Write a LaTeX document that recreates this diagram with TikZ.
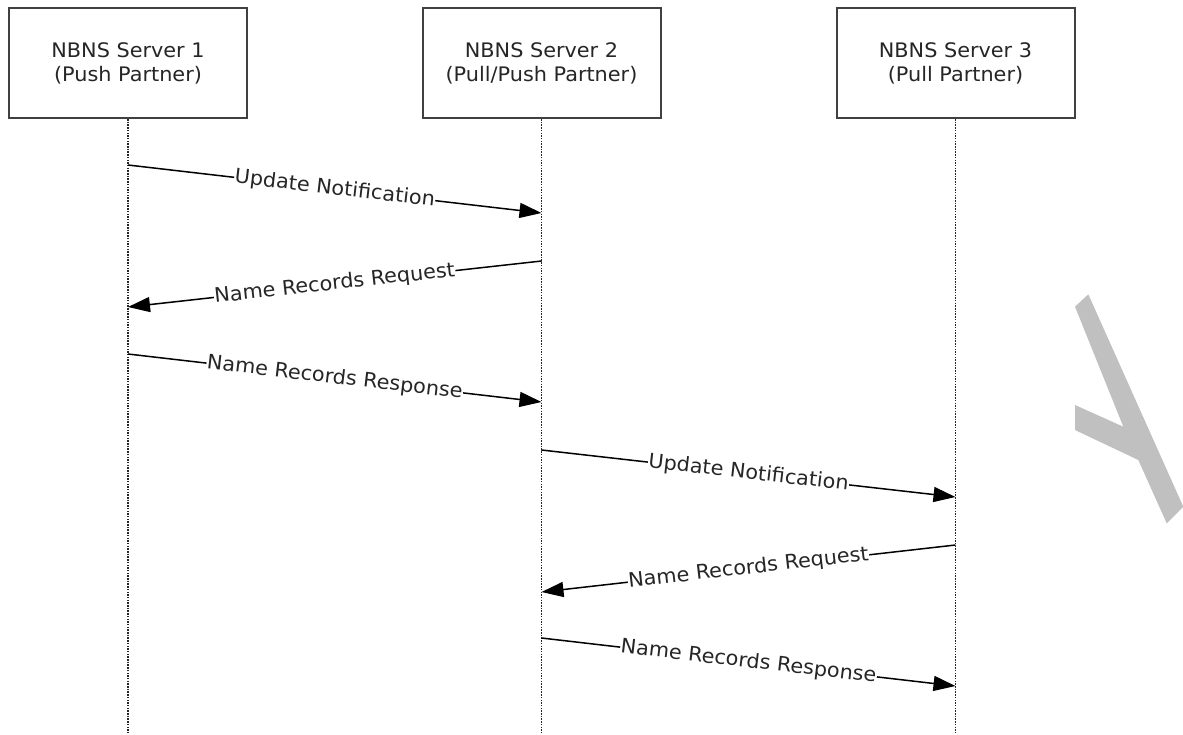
\documentclass[tikz,border=0pt]{standalone}
\usepackage{fontspec}
\setmainfont{DejaVu Sans}[FakeStretch=1.04]
\usetikzlibrary{arrows.meta}
\definecolor{boxline}{HTML}{404040}
\definecolor{txt}{HTML}{262626}
\definecolor{wm}{HTML}{C0C0C0}
\tikzset{
  server/.style={draw=boxline, line width=2pt, fill=white, minimum width=238pt, minimum height=110pt,
    align=center, text=txt, font=\fontsize{20}{24}\selectfont, inner sep=0pt},
  life/.style={draw=black!85, line width=1.1pt, dash pattern=on 1.5pt off 1.2pt},
  msg/.style={draw=black, line width=1.5pt, -{Triangle[length=22pt,width=15pt]}},
  lbl/.style={fill=white, text=txt, font=\fontsize{20}{24}\selectfont, inner sep=0.5pt, sloped, midway}
}
\begin{document}
\begin{tikzpicture}[x=1pt,y=-1pt]
\useasboundingbox (0,0) rectangle (1183,734);
% watermark shape
\fill[wm] (1075,306.7) -- (1088.3,294.3) -- (1183.3,506.7) -- (1166.7,523.3) -- (1138.3,460)
  -- (1075,430) -- (1075,405) -- (1123.3,426.7) -- cycle;
% servers
\node[server] (s1) at (128,63) {NBNS Server 1\\(Push Partner)};
\node[server] (s2) at (541.5,63) {NBNS Server 2\\(Pull/Push Partner)};
\node[server] (s3) at (955.5,63) {NBNS Server 3\\(Pull Partner)};
% lifeline ends
\coordinate (e1) at (128,734);
\coordinate (e2) at (541.5,734);
\coordinate (e3) at (955.5,734);
\draw[life] (s1.south) -- (e1);
\draw[life] (s2.south) -- (e2);
\draw[life] (s3.south) -- (e3);
% message end points
\coordinate (m1a) at (128,165);   \coordinate (m1b) at (541.5,213);
\coordinate (m2a) at (541.5,261); \coordinate (m2b) at (128,307);
\coordinate (m3a) at (128,354);   \coordinate (m3b) at (541.5,402);
\coordinate (m4a) at (541.5,450); \coordinate (m4b) at (955.5,497);
\coordinate (m5a) at (955.5,545); \coordinate (m5b) at (541.5,592);
\coordinate (m6a) at (541.5,638); \coordinate (m6b) at (955.5,686);
\draw[msg] (m1a) -- node[lbl] (l1) {Update Notification} (m1b);
\draw[msg] (m2a) -- node[lbl] (l2) {Name Records Request} (m2b);
\draw[msg] (m3a) -- node[lbl] (l3) {Name Records Response} (m3b);
\draw[msg] (m4a) -- node[lbl] (l4) {Update Notification} (m4b);
\draw[msg] (m5a) -- node[lbl] (l5) {Name Records Request} (m5b);
\draw[msg] (m6a) -- node[lbl] (l6) {Name Records Response} (m6b);
\end{tikzpicture}
\end{document}
